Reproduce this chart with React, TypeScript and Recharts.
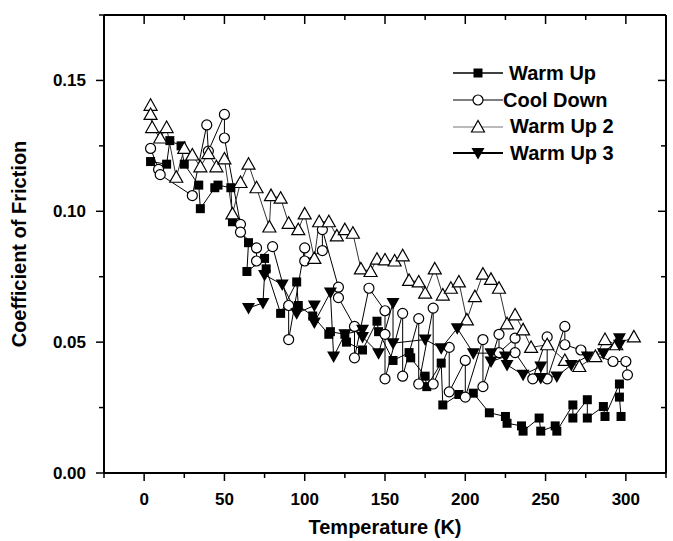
import { Label, Legend, Line, LineChart, XAxis, YAxis } from "recharts";

const FONT = "'Liberation Sans', Arial, Helvetica, sans-serif";

// temperature (K) and coefficient of friction
const warmUpT = [4, 14, 16, 23, 25, 34, 35, 44, 46, 54, 55, 65, 64, 75, 76, 85, 95, 96, 105, 115, 116, 125, 126, 136, 145, 146, 155, 165, 166, 175, 176, 185, 186, 196, 205, 215, 225, 226, 235, 236, 246, 247, 256, 257, 267, 267, 276, 276, 286, 287, 296, 296, 297];
const warmUpCof = [0.119, 0.118, 0.127, 0.125, 0.118, 0.11, 0.101, 0.109, 0.11, 0.109, 0.096, 0.088, 0.077, 0.082, 0.078, 0.061, 0.073, 0.064, 0.06, 0.053, 0.054, 0.053, 0.05, 0.047, 0.058, 0.054, 0.043, 0.046, 0.044, 0.037, 0.033, 0.042, 0.026, 0.03, 0.0305, 0.023, 0.0216, 0.019, 0.018, 0.016, 0.021, 0.016, 0.018, 0.016, 0.026, 0.021, 0.028, 0.021, 0.0254, 0.0216, 0.034, 0.029, 0.0216];

const coolDownT = [4, 9, 10, 30, 39, 40, 50, 50, 60, 60, 70, 70, 80, 90, 90, 100, 100, 111, 111, 121, 121, 131, 131, 140, 150, 150, 150, 161, 161, 171, 171, 180, 180, 190, 190, 200, 200, 211, 211, 221, 221, 231, 231, 242, 251, 251, 262, 262, 272, 292, 300, 301];
const coolDownCof = [0.124, 0.116, 0.114, 0.106, 0.133, 0.123, 0.137, 0.128, 0.095, 0.092, 0.086, 0.081, 0.0865, 0.064, 0.051, 0.086, 0.081, 0.085, 0.093, 0.071, 0.067, 0.056, 0.044, 0.0706, 0.062, 0.053, 0.036, 0.061, 0.037, 0.059, 0.034, 0.063, 0.034, 0.048, 0.031, 0.043, 0.029, 0.051, 0.033, 0.053, 0.046, 0.0515, 0.046, 0.036, 0.052, 0.036, 0.056, 0.049, 0.047, 0.0426, 0.0426, 0.0375];

const warmUp2T = [4, 4, 5, 10, 14, 20, 25, 30, 35, 40, 45, 50, 55, 60, 65, 70, 78, 79, 85, 90, 96, 100, 106, 109, 115, 120, 125, 130, 135, 141, 145, 150, 156, 161, 165, 171, 175, 181, 186, 191, 196, 201, 206, 211, 216, 221, 226, 231, 236, 241, 251, 262, 271, 281, 287, 294, 305];
const warmUp2Cof = [0.1405, 0.137, 0.132, 0.128, 0.132, 0.113, 0.124, 0.1215, 0.117, 0.122, 0.117, 0.12, 0.099, 0.111, 0.118, 0.109, 0.094, 0.106, 0.105, 0.0954, 0.093, 0.099, 0.082, 0.096, 0.096, 0.0906, 0.093, 0.0916, 0.078, 0.077, 0.0817, 0.0814, 0.081, 0.083, 0.0736, 0.073, 0.0687, 0.078, 0.068, 0.0706, 0.073, 0.0585, 0.0674, 0.076, 0.074, 0.0706, 0.057, 0.0604, 0.0547, 0.048, 0.049, 0.043, 0.0407, 0.0445, 0.051, 0.049, 0.052];

const warmUp3T = [65, 74, 75, 86, 95, 106, 106, 116, 118, 125, 136, 136, 146, 155, 155, 175, 185, 195, 205, 216, 216, 225, 226, 236, 247, 247, 257, 266, 276, 286, 296, 296];
const warmUp3Cof = [0.063, 0.065, 0.0757, 0.072, 0.061, 0.064, 0.0575, 0.069, 0.0445, 0.053, 0.0547, 0.052, 0.0458, 0.065, 0.0496, 0.051, 0.0477, 0.0553, 0.0458, 0.0458, 0.0426, 0.0445, 0.0413, 0.0375, 0.0407, 0.0363, 0.0369, 0.0413, 0.0445, 0.0458, 0.0515, 0.049];

const seriesNames = ["Warm Up", "Cool Down", "Warm Up 2", "Warm Up 3"];
const xTicks = [-25, 0, 25, 50, 75, 100, 125, 150, 175, 200, 225, 250, 275, 300, 325];
const yTicks = [0, 0.025, 0.05, 0.075, 0.1, 0.125, 0.15, 0.175];

const toPoints = (t: number[], cof: number[]) => t.map((x, i) => ({ t: x, cof: cof[i] }));

const isMajorX = (v: number) => v % 50 === 0;
const isMajorY = (v: number) => Math.round(v * 1000) % 50 === 0;

function BottomTick({ x, y, payload }: any) {
  const v = payload.value;
  const major = isMajorX(v);
  return (
    <g>
      <line x1={x} y1={y} x2={x} y2={y + (major ? 8 : 5)} stroke="#000" strokeWidth={1.5} />
      {major && v >= 0 && v <= 300 ? (
        <text x={x} y={y + 32} textAnchor="middle" fontSize={17} fontWeight="bold" fill="#000">
          {v}
        </text>
      ) : null}
    </g>
  );
}

function TopTick({ x, y, payload }: any) {
  const major = isMajorX(payload.value);
  return <line x1={x} y1={y} x2={x} y2={y + (major ? 9 : 5)} stroke="#000" strokeWidth={1.5} />;
}

function LeftTick({ x, y, payload }: any) {
  const v = payload.value;
  const major = isMajorY(v);
  return (
    <g>
      <line x1={x - (major ? 8 : 5)} y1={y} x2={x} y2={y} stroke="#000" strokeWidth={1.5} />
      {major && v <= 0.15 ? (
        <text x={x - 18} y={y + 6} textAnchor="end" fontSize={17} fontWeight="bold" fill="#000">
          {v.toFixed(2)}
        </text>
      ) : null}
    </g>
  );
}

function RightTick({ x, y, payload }: any) {
  const major = isMajorY(payload.value);
  return <line x1={x - (major ? 8 : 5)} y1={y} x2={x} y2={y} stroke="#000" strokeWidth={1.5} />;
}

function Marker({ kind, cx, cy }: { kind: string; cx: number; cy: number }) {
  if (kind === "square") {
    return <rect x={cx - 4.5} y={cy - 4.5} width={9} height={9} fill="#000" />;
  }
  if (kind === "circle") {
    return <circle cx={cx} cy={cy} r={5} fill="#fff" stroke="#000" strokeWidth={1.2} />;
  }
  if (kind === "up") {
    return (
      <polygon
        points={`${cx},${cy - 6.5} ${cx - 6.5},${cy + 5} ${cx + 6.5},${cy + 5}`}
        fill="#fff"
        stroke="#000"
        strokeWidth={1.2}
      />
    );
  }
  return <polygon points={`${cx - 6.5},${cy - 5} ${cx + 6.5},${cy - 5} ${cx},${cy + 6.5}`} fill="#000" />;
}

const dotFor = (kind: string) => (p: any) => (
  <g key={`${kind}-${p.index}`}>
    <Marker kind={kind} cx={p.cx} cy={p.cy} />
  </g>
);

const legendRows = [
  { kind: "square", gap: 6, stroke: "#000", width: 1.5 },
  { kind: "circle", gap: 0, stroke: "#000", width: 1.2 },
  { kind: "up", gap: 7, stroke: "#777", width: 1.2 },
  { kind: "down", gap: 7, stroke: "#000", width: 2 }
];

function LegendBox() {
  return (
    <div style={{ fontFamily: FONT, fontWeight: "bold", fontSize: 20, color: "#000" }}>
      {seriesNames.map((name, i) => {
        const row = legendRows[i];
        return (
          <div key={name} style={{ display: "flex", alignItems: "center", height: 26.7 }}>
            <svg width={50} height={26} style={{ display: "block" }}>
              <line x1={0} y1={13} x2={50} y2={13} stroke={row.stroke} strokeWidth={row.width} />
              <Marker kind={row.kind} cx={25} cy={13} />
            </svg>
            <span style={{ marginLeft: row.gap, whiteSpace: "nowrap" }}>{name}</span>
          </div>
        );
      })}
    </div>
  );
}

export default function App() {
  return (
    <div style={{ position: "fixed", left: 0, top: 0, width: 673, height: 541, background: "#fff", fontFamily: FONT }}>
      <LineChart width={673} height={541} margin={{ top: 0, right: 0, bottom: 0, left: 0 }}>
        <XAxis
          xAxisId="b"
          dataKey="t"
          type="number"
          domain={[-25, 325]}
          allowDataOverflow
          ticks={xTicks}
          interval={0}
          height={68}
          tickSize={0}
          tickMargin={0}
          tickLine={false}
          tick={<BottomTick />}
          axisLine={{ stroke: "#000", strokeWidth: 2 }}
        >
          <Label value="Temperature (K)" position="insideBottom" offset={7} fontSize={20} fontWeight="bold" fill="#000" />
        </XAxis>
        <XAxis
          xAxisId="t"
          orientation="top"
          dataKey="t"
          type="number"
          domain={[-25, 325]}
          allowDataOverflow
          ticks={xTicks}
          interval={0}
          height={15}
          tickSize={0}
          tickMargin={0}
          tickLine={false}
          tick={<TopTick />}
          axisLine={{ stroke: "#000", strokeWidth: 2 }}
        />
        <YAxis
          yAxisId="l"
          type="number"
          domain={[0, 0.175]}
          allowDataOverflow
          ticks={yTicks}
          interval={0}
          width={104}
          tickSize={0}
          tickMargin={0}
          tickLine={false}
          tick={<LeftTick />}
          axisLine={{ stroke: "#000", strokeWidth: 2 }}
        >
          <Label
            value="Coefficient of Friction"
            angle={-90}
            position="insideLeft"
            offset={19}
            fontSize={20}
            fontWeight="bold"
            fill="#000"
            style={{ textAnchor: "middle" }}
          />
        </YAxis>
        <YAxis
          yAxisId="r"
          orientation="right"
          type="number"
          domain={[0, 0.175]}
          allowDataOverflow
          ticks={yTicks}
          interval={0}
          width={7}
          tickSize={0}
          tickMargin={0}
          tickLine={false}
          tick={<RightTick />}
          axisLine={{ stroke: "#000", strokeWidth: 2 }}
        />
        <Legend
          layout="vertical"
          align="center"
          verticalAlign="middle"
          content={() => <LegendBox />}
          wrapperStyle={{ left: 453, top: 60, width: "auto" }}
        />
        <Line
          xAxisId="b"
          yAxisId="l"
          data={toPoints(warmUpT, warmUpCof)}
          dataKey="cof"
          name={seriesNames[0]}
          stroke="#000"
          strokeWidth={1}
          dot={dotFor("square")}
          activeDot={false}
          isAnimationActive={false}
        />
        <Line
          xAxisId="b"
          yAxisId="l"
          data={toPoints(coolDownT, coolDownCof)}
          dataKey="cof"
          name={seriesNames[1]}
          stroke="#000"
          strokeWidth={1}
          dot={dotFor("circle")}
          activeDot={false}
          isAnimationActive={false}
        />
        <Line
          xAxisId="b"
          yAxisId="l"
          data={toPoints(warmUp2T, warmUp2Cof)}
          dataKey="cof"
          name={seriesNames[2]}
          stroke="#333"
          strokeWidth={1}
          dot={dotFor("up")}
          activeDot={false}
          isAnimationActive={false}
        />
        <Line
          xAxisId="b"
          yAxisId="l"
          data={toPoints(warmUp3T, warmUp3Cof)}
          dataKey="cof"
          name={seriesNames[3]}
          stroke="#000"
          strokeWidth={1}
          dot={dotFor("down")}
          activeDot={false}
          isAnimationActive={false}
        />
      </LineChart>
    </div>
  );
}
